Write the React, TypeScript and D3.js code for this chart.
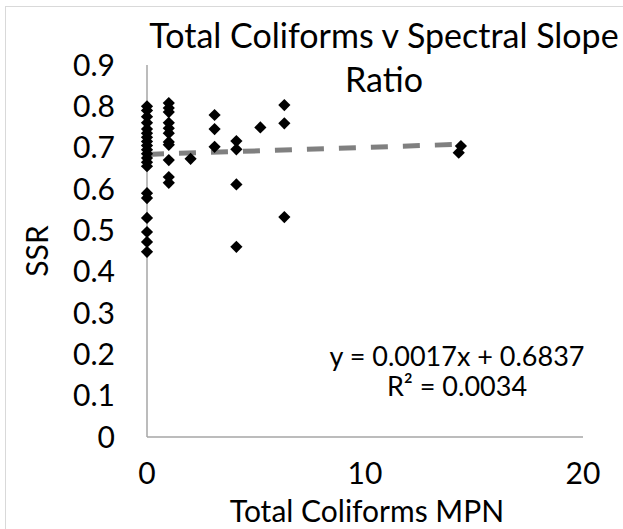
import { useEffect, useRef } from 'react'
import * as d3 from 'd3'

// Total coliforms (MPN) vs spectral slope ratio
const mpn = [
  0, 0, 0, 0, 0, 0, 0, 0, 0, 0, 0, 0, 0, 0, 0, 0, 0, 0, 0, 0,
  1, 1, 1, 1, 1, 1, 1, 1, 1, 1, 1,
  2,
  3.1, 3.1, 3.1,
  4.1, 4.1, 4.1, 4.1,
  5.2,
  6.3, 6.3, 6.3,
  14.4, 14.3,
]
const ssr = [
  0.8, 0.79, 0.775, 0.76, 0.745, 0.735, 0.725, 0.715, 0.705, 0.695, 0.685, 0.675, 0.665, 0.655, 0.59, 0.578, 0.53, 0.496, 0.472, 0.448,
  0.808, 0.796, 0.786, 0.76, 0.747, 0.735, 0.714, 0.707, 0.67, 0.629, 0.615,
  0.673,
  0.779, 0.745, 0.702,
  0.716, 0.696, 0.611, 0.46,
  0.749,
  0.803, 0.759, 0.532,
  0.704, 0.688,
]
const xTicks = [0, 10, 20]
const yTicks = [0, 0.1, 0.2, 0.3, 0.4, 0.5, 0.6, 0.7, 0.8, 0.9]
const slope = 0.0017
const intercept = 0.6837
const titleLines = ['Total Coliforms v Spectral Slope', 'Ratio']
const eqnLines = ['y = 0.0017x + 0.6837', 'R² = 0.0034']

const font = 'Lato, "Noto Sans", sans-serif'

const App = () => {
  const svgRef = useRef(null)

  useEffect(() => {
    const width = 623
    const height = 529
    const svg = d3.select(svgRef.current).attr('width', width).attr('height', height)
    svg.selectAll('*').remove()

    svg.append('rect').attr('width', width).attr('height', height).attr('fill', '#fff')
    // outer chart border (only top/left visible)
    svg
      .append('rect')
      .attr('x', 5.5)
      .attr('y', 6.5)
      .attr('width', 800)
      .attr('height', 800)
      .attr('fill', 'none')
      .attr('stroke', '#d9d9d9')

    const x = d3.scaleLinear().domain([0, 20]).range([147, 583])
    const y = d3.scaleLinear().domain([0, 0.9]).range([437, 65])

    // axes
    svg
      .append('line')
      .attr('x1', x(0))
      .attr('x2', x(20))
      .attr('y1', y(0))
      .attr('y2', y(0))
      .attr('stroke', '#a6a6a6')
      .attr('stroke-width', 1.5)
    svg
      .append('line')
      .attr('x1', x(0))
      .attr('x2', x(0))
      .attr('y1', y(0))
      .attr('y2', y(0.9))
      .attr('stroke', '#a6a6a6')
      .attr('stroke-width', 1.5)

    svg
      .append('g')
      .selectAll('text')
      .data(yTicks)
      .join('text')
      .attr('x', 115)
      .attr('y', (d) => y(d))
      .attr('dy', '0.35em')
      .attr('text-anchor', 'end')
      .attr('font-family', font)
      .attr('font-size', 30)
      .attr('fill', '#000')
      .text((d) => (d === 0 ? '0' : d.toFixed(1)))

    svg
      .append('g')
      .selectAll('text')
      .data(xTicks)
      .join('text')
      .attr('x', (d) => x(d))
      .attr('y', 484)
      .attr('text-anchor', 'middle')
      .attr('font-family', font)
      .attr('font-size', 30)
      .attr('fill', '#000')
      .text((d) => d)

    // axis titles
    svg
      .append('text')
      .attr('transform', `translate(48, ${(y(0) + y(0.9)) / 2}) rotate(-90)`)
      .attr('text-anchor', 'middle')
      .attr('font-family', font)
      .attr('font-size', 30)
      .text('SSR')
    svg
      .append('text')
      .attr('x', 367)
      .attr('y', 522)
      .attr('text-anchor', 'middle')
      .attr('font-family', font)
      .attr('font-size', 30)
      .text('Total Coliforms MPN')

    // title
    svg
      .append('g')
      .selectAll('text')
      .data(titleLines)
      .join('text')
      .attr('x', 384)
      .attr('y', (_, i) => 48 + i * 44)
      .attr('text-anchor', 'middle')
      .attr('font-family', font)
      .attr('font-size', 34)
      .text((d) => d)

    // linear trendline
    const xMax = d3.max(mpn) as number
    const trend = d3
      .line<number>()
      .x((d) => x(d))
      .y((d) => y(slope * d + intercept))
    svg
      .append('path')
      .attr('d', trend([0, xMax]))
      .attr('fill', 'none')
      .attr('stroke', '#808080')
      .attr('stroke-width', 5)
      .attr('stroke-dasharray', '17,15')

    // points
    const diamond = d3.symbol().type(d3.symbolDiamond2).size(95)
    svg
      .append('g')
      .selectAll('path')
      .data(mpn.map((m, i) => [m, ssr[i]]))
      .join('path')
      .attr('transform', (d) => `translate(${x(d[0])}, ${y(d[1])})`)
      .attr('d', diamond as unknown as string)
      .attr('fill', '#000')

    // equation
    svg
      .append('g')
      .selectAll('text')
      .data(eqnLines)
      .join('text')
      .attr('x', 457)
      .attr('y', (_, i) => 366 + i * 30)
      .attr('text-anchor', 'middle')
      .attr('font-family', font)
      .attr('font-size', 27)
      .text((d) => d)
  }, [])

  return <svg ref={svgRef} style={{ position: 'absolute', left: 0, top: 0 }}></svg>
}

export default App
